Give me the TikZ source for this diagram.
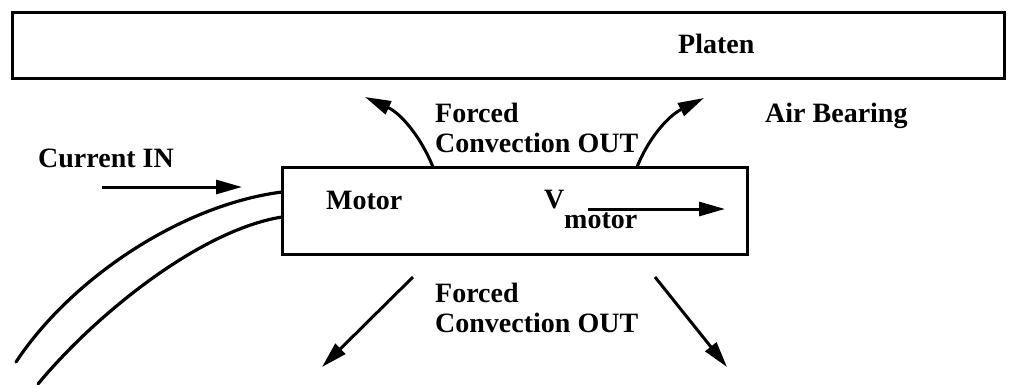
\documentclass[tikz,border=0pt]{standalone}
\usepackage{fontspec}
\setmainfont{Liberation Serif}
\usetikzlibrary{arrows.meta}
\begin{document}
\begin{tikzpicture}[x=1pt,y=-1pt,
  lbl/.style={font=\fontsize{28}{30}\selectfont\bfseries, inner sep=0pt, anchor=base west},
  lbltwo/.style={font=\fontsize{28}{30}\selectfont\bfseries, inner sep=0pt, anchor=north west, align=left},
  boxst/.style={draw, line width=3pt, inner sep=0pt},
  arr/.style={line width=3pt, -{Triangle[length=26pt,width=14pt]}},
  wire/.style={line width=3.2pt, line cap=round}]
\useasboundingbox (0,0) rectangle (1009,384);
% boxes
\node[boxst, minimum width=992pt, minimum height=66pt] (platen) at (508,45) {};
\node[boxst, minimum width=465pt, minimum height=87pt] (motor) at (514.5,210.5) {};
% labels
\node[lbl] (platenlbl) at (678,53) {Platen};
\node[lbl] (airlbl) at (765,122) {Air Bearing};
\node[lbl] (curlbl) at (38,167) {Current IN};
\node[lbl] (motorlbl) at (326,209) {Motor};
\node[lbl] (vlbl) at (544,208) {V};
\node[lbl] (vsub) at (564,228) {motor};
\node[lbltwo] (fcup) at (435,103) {Forced\\Convection OUT};
\node[lbltwo] (fcdn) at (435,283) {Forced\\Convection OUT};
% coordinates
\coordinate (cinS) at (102,187);
\coordinate (cinE) at (242,187);
\coordinate (vS) at (588,209);
\coordinate (vE) at (725,209);
\coordinate (ulS) at (433,167);
\coordinate (ulE) at (365,97);
\coordinate (urS) at (637,167);
\coordinate (urE) at (704,98);
\coordinate (dlS) at (413,277);
\coordinate (dlE) at (322,367);
\coordinate (drS) at (655,277);
\coordinate (drE) at (727,367);
\coordinate (w1S) at (282,192);
\coordinate (w1E) at (16,362);
\coordinate (w2S) at (282,217);
\coordinate (w2E) at (38,384);
% arrows
\draw[arr] (cinS) -- (cinE);
\draw[arr] (vS) -- (vE);
\draw[arr] (ulS) .. controls (420,135) and (400,113) .. (ulE);
\draw[arr] (urS) .. controls (650,135) and (670,115) .. (urE);
\draw[arr] (dlS) -- (dlE);
\draw[arr] (drS) -- (drE);
% wires
\draw[wire] (w1S) .. controls (180,205) and (70,280) .. (w1E);
\draw[wire] (w2S) .. controls (200,230) and (95,315) .. (w2E);
\end{tikzpicture}
\end{document}
